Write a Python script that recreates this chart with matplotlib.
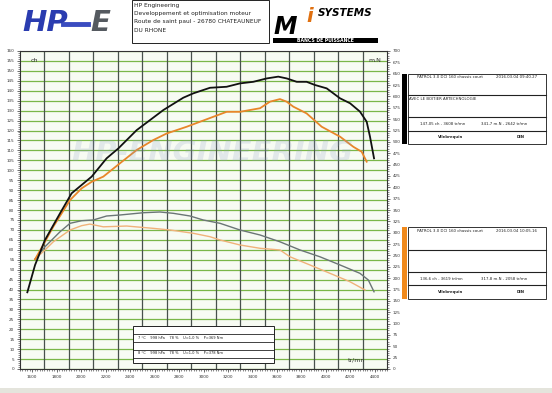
import numpy as np
import matplotlib.pyplot as plt
from matplotlib.patches import Rectangle
from matplotlib.ticker import MultipleLocator

# ----- data -----
rpm_pw_after = [1560, 1623, 1704, 1827, 1922, 2004, 2086, 2208, 2304, 2454, 2672, 2835, 2917,
                3053, 3189, 3298, 3407, 3517, 3611, 3680, 3762, 3843, 3911, 4007, 4116, 4198,
                4279, 4334, 4361, 4394]
ch_after = [38.6, 52.3, 64.9, 78.3, 88.4, 92.6, 96.8, 106.0, 111.0, 120.2, 130.3, 136.5, 138.7,
            141.5, 142.0, 143.7, 144.5, 146.2, 147.1, 146.2, 144.5, 144.5, 142.9, 141.2, 136.2,
            133.7, 129.5, 124.4, 116.9, 106.0]

rpm_pw_before = [1623, 1704, 1772, 1909, 2004, 2086, 2181, 2317, 2454, 2590, 2699, 2863, 2971,
                 3080, 3189, 3298, 3462, 3543, 3625, 3680, 3734, 3843, 3966, 4116, 4225, 4293,
                 4334]
ch_before = [55.2, 64.0, 71.6, 85.0, 90.9, 94.2, 96.8, 103.5, 110.2, 115.2, 118.5, 121.9, 124.4,
             126.9, 129.4, 129.4, 131.2, 134.5, 135.8, 134.5, 132.0, 128.6, 121.9, 116.9, 111.8,
             109.3, 104.3]

rpm_tq_after = [1623, 1704, 1827, 1909, 2004, 2099, 2208, 2317, 2508, 2644, 2753, 2890, 2998,
                3135, 3298, 3462, 3625, 3789, 3952, 4116, 4279, 4347, 4394]
nm_after = [242, 269, 302, 320.7, 326.4, 328, 336.8, 339, 344, 345.6, 342.7, 336.8, 328,
            320.7, 306, 295, 280, 262, 247, 229, 210.6, 196, 170]

rpm_tq_before = [1623, 1704, 1772, 1909, 2004, 2071, 2181, 2372, 2590, 2726, 2917, 3053, 3135,
                 3298, 3462, 3625, 3707, 3870, 4034, 4198, 4320]
nm_before = [242, 262, 280, 306, 315.5, 319, 313, 314.7, 309.6, 306, 298.7, 291.2, 284,
             273, 265.7, 262, 247, 229, 210.6, 192, 174]

W, H = 552, 393
fig = plt.figure(figsize=(W / 100, H / 100), dpi=100)
fig.patch.set_facecolor('white')


# pixel -> figure fraction
def fx(px):
    return px / W


def fy(py):
    return 1 - py / H


def box(x0, y0, x1, y1, fc='white', ec='#222222', lw=0.7):
    fig.patches.append(Rectangle((fx(x0), fy(y1)), fx(x1 - x0), (y1 - y0) / H,
                                 transform=fig.transFigure, facecolor=fc, edgecolor=ec, lw=lw))


def hline(x0, x1, y, lw=0.7):
    fig.add_artist(plt.Line2D([fx(x0), fx(x1)], [fy(y), fy(y)], color='#222222', lw=lw))


# -------------------------------
# MAIN CHART
# -------------------------------
ax = fig.add_axes([fx(20), fy(369), fx(367), 318 / H])
ax.set_facecolor('#f7fbf3')
ax.set_xlim(1500, 4500)
ax.set_ylim(0, 160)

for v in np.arange(0, 161, 5):
    ax.axhline(v, color='#7ab648', lw=0.9, zorder=1)
for r in np.arange(1700, 4500, 200):
    ax.axvline(r, color='#48524c', lw=0.9, zorder=2)

ax.xaxis.set_major_locator(MultipleLocator(200))
ax.xaxis.set_minor_locator(MultipleLocator(20))
ax.yaxis.set_major_locator(MultipleLocator(5))
ax.yaxis.set_minor_locator(MultipleLocator(1))
ax.tick_params(axis='both', which='major', labelsize=3, length=2.5, width=0.5, pad=1.5,
               colors='#333333')
ax.tick_params(axis='both', which='minor', length=1.5, width=0.4, colors='#333333')
for s in ax.spines.values():
    s.set_color('#333333')
    s.set_linewidth(0.8)

ax2 = ax.twinx()
ax2.set_ylim(0, 700)
ax2.yaxis.set_major_locator(MultipleLocator(25))
ax2.yaxis.set_minor_locator(MultipleLocator(5))
ax2.tick_params(axis='y', which='major', labelsize=3, length=2.5, width=0.5, pad=1.5,
                colors='#333333')
ax2.tick_params(axis='y', which='minor', length=1.5, width=0.4, colors='#333333')
for s in ax2.spines.values():
    s.set_visible(False)

ax2.plot(rpm_tq_before, nm_before, color='#f0b27a', lw=1.0, zorder=5)
ax2.plot(rpm_tq_after, nm_after, color='#6b7676', lw=1.0, zorder=5)
ax2.plot(rpm_pw_before, np.array(ch_before) * 700 / 160, color='#e8862a', lw=1.3, zorder=6)
ax2.plot(rpm_pw_after, np.array(ch_after) * 700 / 160, color='#111111', lw=1.3, zorder=7)

# faint watermark
fig.text(fx(212), fy(153), 'HP-ENGINEERING', fontsize=21, fontstyle='italic',
         fontweight='bold', color='#8a9cc4', alpha=0.2, ha='center', va='center')

fig.text(fx(31), fy(61), 'ch', fontsize=4.5, color='#333333', va='center')
fig.text(fx(368), fy(61), 'm.N', fontsize=4.5, color='#333333', va='center')
fig.text(fx(348), fy(360), 'tr/mn', fontsize=4.5, color='#333333', va='center')

# conditions box
box(133, 326, 274, 363)
for yy in (334, 342, 350, 358):
    hline(133, 274, yy, lw=0.6)
fig.text(fx(138), fy(338), '7 °C    998 hPa    78 %    U=1,0 %    P=369 Nm', fontsize=2.6,
         color='#222222', va='center')
fig.text(fx(138), fy(353.5), '8 °C    998 hPa    78 %    U=1,0 %    P=378 Nm', fontsize=2.6,
         color='#222222', va='center')

# -------------------------------
# HEADER
# -------------------------------
fig.text(fx(22), fy(23), 'HP', fontsize=21, fontstyle='italic', fontweight='bold',
         color='#2a3cb0', ha='left', va='center')
fig.add_artist(plt.Line2D([fx(63), fx(88)], [fy(24), fy(24)], color='#3a4cc0', lw=3.5))
fig.text(fx(90), fy(23), 'E', fontsize=21, fontstyle='italic', fontweight='bold',
         color='#555a60', ha='left', va='center')
box(132, 0, 269, 43)
hdr = ['HP Engineering', 'Developpement et optimisation moteur',
       'Route de saint paul - 26780 CHATEAUNEUF', 'DU RHONE']
for i, t in enumerate(hdr):
    fig.text(fx(134), fy(5 + 8.5 * i), t, fontsize=4.2, color='#222222', va='center')

fig.text(fx(274), fy(27), 'M', fontsize=17, fontstyle='italic', fontweight='bold',
         color='black', ha='left', va='center')
fig.text(fx(306), fy(17), 'i', fontsize=14, fontstyle='italic', fontweight='bold',
         color='#e07010', ha='left', va='center')
fig.text(fx(318), fy(13), 'SYSTEMS', fontsize=7.5, fontstyle='italic', fontweight='bold',
         color='black', ha='left', va='center')
box(273, 38, 378, 43, fc='black', ec='none')
fig.text(fx(325.5), fy(40.5), 'BANCS DE PUISSANCE', fontsize=3.3, fontweight='bold',
         color='white', ha='center', va='center')


# -------------------------------
# RESULT PANELS
# -------------------------------
def panel(top, bottom, rows, bar_color, line1, line2, line3):
    box(402, top, 407, bottom, fc=bar_color, ec='none')
    box(408, top, 546, bottom, ec='#333333')
    for yy in rows:
        hline(408, 546, yy, lw=0.8)
    fs = 2.8
    fig.text(fx(417), fy(top + 3.5), line1[0], fontsize=fs, color='#222222', va='center')
    fig.text(fx(496), fy(top + 3.5), line1[1], fontsize=fs, color='#222222', va='center')
    if line2:
        fig.text(fx(409), fy(rows[0] + 4), line2, fontsize=fs, color='#222222', va='center')
    ym = (rows[1] + rows[2]) / 2
    fig.text(fx(420), fy(ym), line3[0], fontsize=fs, color='#222222', va='center')
    fig.text(fx(481), fy(ym), line3[1], fontsize=fs, color='#222222', va='center')
    yb = (rows[2] + bottom) / 2
    fig.text(fx(438), fy(yb), 'Vilebrequin', fontsize=fs, fontweight='bold',
             color='#222222', va='center')
    fig.text(fx(517), fy(yb), 'DIN', fontsize=fs, fontweight='bold', color='#222222',
             va='center')


panel(74, 144, (95, 117, 131), 'black',
      ('PATROL 3.0 DCI 160 chassis court', '2016.03.04 09:40.27'),
      'AVEC LE BOITIER ARTECHNOLOGIE',
      ('147,05 ch - 3608 tr/mn', '341,7 m.N - 2642 tr/mn'))
panel(227, 299, (250, 272, 285), '#f08a1c',
      ('PATROL 3.0 DCI 160 chassis court', '2016.03.04 10:05.16'),
      None,
      ('136,6 ch - 3619 tr/mn', '317,8 m.N - 2058 tr/mn'))

# bottom strip
box(0, 388, 552, 393, fc='#e4e4dc', ec='none')

fig.savefig('out.png', dpi=100)
